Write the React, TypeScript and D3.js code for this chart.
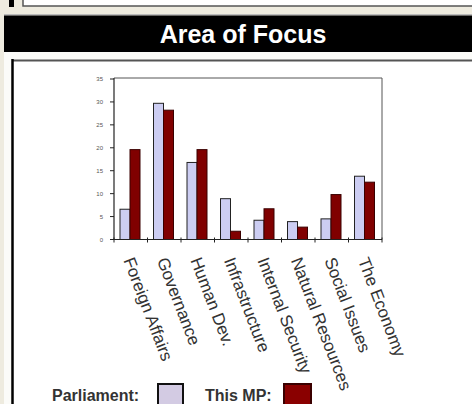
import React from 'react';
import * as d3 from 'd3';

const categories = [
  'Foreign Affairs',
  'Governance',
  'Human Dev.',
  'Infrastructure',
  'Internal Security',
  'Natural Resources',
  'Social Issues',
  'The Economy',
];
const parliament = [6.6, 29.7, 16.8, 8.9, 4.2, 3.9, 4.5, 13.8];
const thisMP = [19.6, 28.2, 19.6, 1.8, 6.7, 2.7, 9.8, 12.5];
const yTicks = [0, 5, 10, 15, 20, 25, 30, 35];
const seriesNames = ['Parliament', 'This MP'];

const W = 472;
const H = 404;
const plot = { left: 114, right: 382, top: 79, bottom: 239.5 };
const colors = { Parliament: '#cccdf2', 'This MP': '#800000' };

const App: React.FC = () => {
  const x = d3.scaleBand<string>().domain(categories).range([plot.left, plot.right]);
  const x1 = d3.scaleBand<string>().domain(seriesNames).range([6, 26]);
  const y = d3.scaleLinear().domain([0, 35]).range([plot.bottom, plot.top]);

  const rows = categories.map((c, i) => ({ c, vals: [parliament[i], thisMP[i]] }));

  return (
    <svg
      width={W}
      height={H}
      style={{ position: 'absolute', left: 0, top: 0, background: '#eeebdf' }}
      fontFamily="Arial, 'Liberation Sans', sans-serif"
    >
      {/* top box remnant */}
      <rect x={9} y={0} width={5} height={7} fill="#000" />
      <rect x={23} y={-2} width={W} height={8} fill="#fff" stroke="#555" strokeWidth={1.5} />

      {/* header */}
      <rect x={4} y={14} width={W} height={1.5} fill="#bbb" />
      <rect x={4} y={15.5} width={W} height={36.5} fill="#000" />
      <text x={243} y={43} textAnchor="middle" fill="#fff" fontWeight="bold" fontSize={25}>
        Area of Focus
      </text>

      {/* panel */}
      <rect x={4} y={52} width={W} height={H} fill="#fbfbf8" />
      <rect x={12} y={60} width={W} height={H} fill="#fff" />
      <line x1={12} x2={W} y1={60.5} y2={60.5} stroke="#555" strokeWidth={2} />
      <line x1={12.5} x2={12.5} y1={59} y2={H} stroke="#000" strokeWidth={2.5} />

      {/* plot frame */}
      <path
        d={`M${plot.left},${plot.top - 1}H${plot.right}V${plot.bottom}`}
        fill="none"
        stroke="#555"
        strokeWidth={1}
      />

      {/* bars */}
      {rows.map(r => (
        <g key={r.c} transform={`translate(${x(r.c)},0)`}>
          {r.vals.map((v, j) => (
            <rect
              key={seriesNames[j]}
              x={x1(seriesNames[j])}
              y={y(v)}
              width={x1.bandwidth()}
              height={y(0) - y(v)}
              fill={colors[seriesNames[j] as keyof typeof colors]}
              stroke={j === 0 ? '#222' : '#3a0000'}
              strokeWidth={1}
            />
          ))}
        </g>
      ))}

      {/* y axis */}
      <line x1={plot.left} x2={plot.left} y1={plot.top - 1} y2={plot.bottom} stroke="#222" strokeWidth={1.2} />
      {yTicks.map(t => (
        <g key={t} transform={`translate(0,${y(t)})`}>
          <line x1={plot.left - 4} x2={plot.left} stroke="#222" />
          <text x={103} dy="0.35em" textAnchor="end" fontSize={6} fill="#555">
            {t}
          </text>
        </g>
      ))}

      {/* x axis */}
      <line x1={plot.left - 4} x2={plot.right} y1={plot.bottom} y2={plot.bottom} stroke="#222" strokeWidth={1.2} />
      {categories.concat(['']).map((c, i) => {
        const px = plot.left + i * x.bandwidth();
        return <line key={i} x1={px} x2={px} y1={plot.bottom - 2} y2={plot.bottom + 3} stroke="#222" />;
      })}
      {categories.map(c => (
        <text
          key={c}
          transform={`translate(${(x(c) as number) + x.bandwidth() / 2 - 2},258) rotate(69)`}
          dy="0.35em"
          fontSize={17}
          fill="#333"
        >
          {c}
        </text>
      ))}

      {/* legend */}
      <text x={52} y={401} fontSize={16} fontWeight="bold" fill="#333">
        Parliament:
      </text>
      <rect x={158} y={384} width={25} height={24} fill="#d3cbe3" stroke="#111" strokeWidth={2} />
      <text x={205} y={401} fontSize={16} fontWeight="bold" fill="#333">
        This MP:
      </text>
      <rect x={284} y={384} width={27} height={24} fill="#8a0000" stroke="#3a0000" strokeWidth={2} />
    </svg>
  );
};

export default App;
